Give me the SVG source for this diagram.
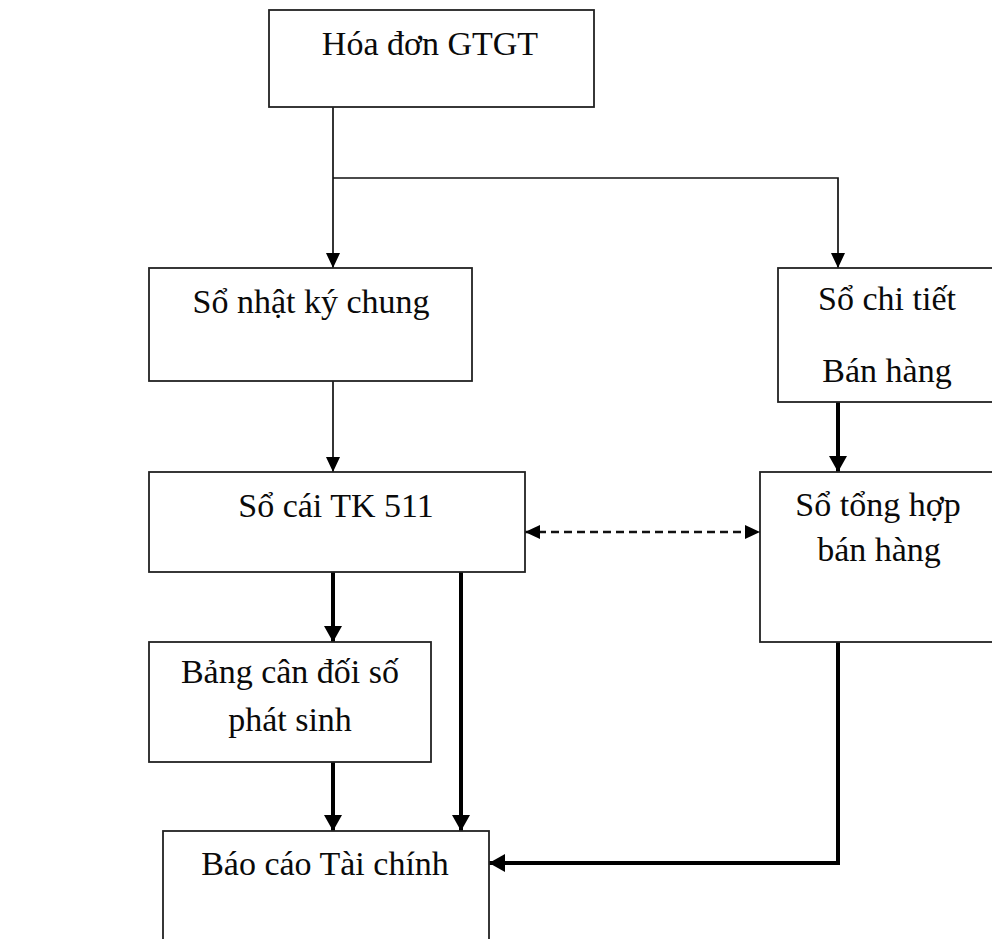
<svg xmlns="http://www.w3.org/2000/svg" width="992" height="939" viewBox="0 0 992 939">
  <style>
    .box { fill: #ffffff; stroke: #222222; stroke-width: 1.8; }
    .lbl { font-family: "Liberation Serif", "Times New Roman", serif; font-size: 34px; fill: #0a0a0a; text-anchor: middle; }
    .thin { fill: none; stroke: #111111; stroke-width: 1.7; }
    .thick { fill: none; stroke: #000000; stroke-width: 4; }
    .dash { fill: none; stroke: #111111; stroke-width: 2.4; stroke-dasharray: 8 5; }
  </style>
  <defs>
    <marker id="headThin" markerUnits="userSpaceOnUse" markerWidth="15" markerHeight="14" refX="15" refY="7" orient="auto">
      <path d="M0,0 L15,7 L0,14 z" fill="#000000"/>
    </marker>
    <marker id="headThick" markerUnits="userSpaceOnUse" markerWidth="16" markerHeight="18" refX="16" refY="9" orient="auto">
      <path d="M0,0 L16,9 L0,18 z" fill="#000000"/>
    </marker>
    <marker id="headDash" markerUnits="userSpaceOnUse" markerWidth="15" markerHeight="14" refX="15" refY="7" orient="auto-start-reverse">
      <path d="M0,0 L15,7 L0,14 z" fill="#000000"/>
    </marker>
  </defs>

  <rect width="992" height="939" fill="#ffffff"/>

  <!-- connectors -->
  <g id="connectors">
    <path class="thin" d="M333,107 V268" marker-end="url(#headThin)"/>
    <path class="thin" d="M333,178 H838 V268" marker-end="url(#headThin)"/>
    <path class="thin" d="M333,381 V472" marker-end="url(#headThin)"/>
    <path class="thick" d="M838,402 V472" marker-end="url(#headThick)"/>
    <path class="dash" d="M525,532 H760" marker-start="url(#headDash)" marker-end="url(#headDash)"/>
    <path class="thick" d="M333,572 V642" marker-end="url(#headThick)"/>
    <path class="thick" d="M461,572 V831" marker-end="url(#headThick)"/>
    <path class="thick" d="M333,762 V831" marker-end="url(#headThick)"/>
    <path class="thick" d="M838,642 V863 H489" marker-end="url(#headThick)"/>
  </g>

  <!-- nodes -->
  <g id="hoa-don">
    <rect class="box" x="269" y="10" width="325" height="97"/>
    <text class="lbl" x="430" y="55">Hóa đơn GTGT</text>
  </g>
  <g id="so-nhat-ky-chung">
    <rect class="box" x="149" y="268" width="323" height="113"/>
    <text class="lbl" x="311" y="313">Sổ nhật ký chung</text>
  </g>
  <g id="so-chi-tiet">
    <rect class="box" x="778" y="268" width="220" height="134"/>
    <text class="lbl" x="887" y="310">Sổ chi tiết</text>
    <text class="lbl" x="887" y="382">Bán hàng</text>
  </g>
  <g id="so-cai">
    <rect class="box" x="149" y="472" width="376" height="100"/>
    <text class="lbl" x="336" y="517">Sổ cái TK 511</text>
  </g>
  <g id="so-tong-hop">
    <rect class="box" x="760" y="472" width="238" height="170"/>
    <text class="lbl" x="878" y="516">Sổ tổng hợp</text>
    <text class="lbl" x="879" y="561">bán hàng</text>
  </g>
  <g id="bang-can-doi">
    <rect class="box" x="149" y="642" width="282" height="120"/>
    <text class="lbl" x="290" y="683">Bảng cân đối số</text>
    <text class="lbl" x="290" y="731">phát sinh</text>
  </g>
  <g id="bao-cao">
    <rect class="box" x="163" y="831" width="326" height="120"/>
    <text class="lbl" x="325" y="875">Báo cáo Tài chính</text>
  </g>
</svg>
